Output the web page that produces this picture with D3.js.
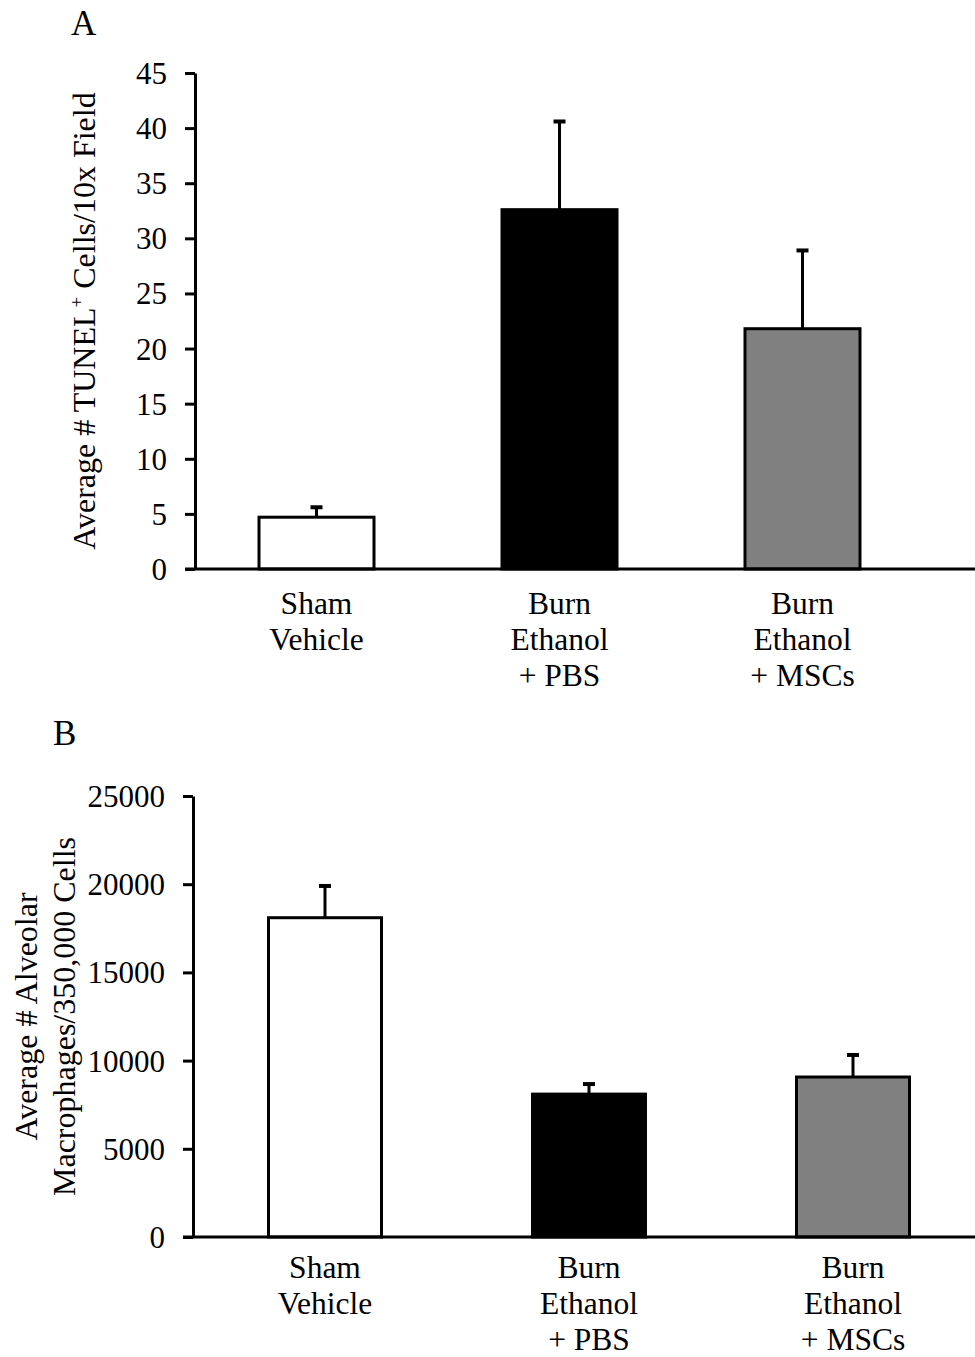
<!DOCTYPE html>
<html>
<head>
<meta charset="utf-8">
<script src="https://cdn.jsdelivr.net/npm/d3@7"></script>
<style>
  body { margin: 0; background: #fff; }
  svg text { font-family: "Liberation Serif", "Times New Roman", serif; fill: #000; }
</style>
</head>
<body>
<div id="chart"></div>
<script>
// groups along the x axis (each entry = lines of the label)
const groups = [
  ["Sham", "Vehicle"],
  ["Burn", "Ethanol", "+ PBS"],
  ["Burn", "Ethanol", "+ MSCs"]
];
const barFills = ["#ffffff", "#000000", "#808080"];

// panel A: TUNEL+ cells
const tunelMeans  = [4.7, 32.6, 21.8];
const tunelErrors = [0.9, 8.0, 7.1];
const tunelTicks  = [0, 5, 10, 15, 20, 25, 30, 35, 40, 45];

// panel B: alveolar macrophages
const macroMeans  = [18100, 8100, 9070];
const macroErrors = [1800, 570, 1250];
const macroTicks  = [0, 5000, 10000, 15000, 20000, 25000];

const W = 975, H = 1357;
const svg = d3.select("#chart").append("svg")
  .attr("width", W)
  .attr("height", H);

function drawPanel(opts) {
  const g = svg.append("g");
  const { means, errors, ticks, top, bottom, left, step, barW, letter, letterX, letterY, yLabel, labelBase } = opts;

  const y = d3.scaleLinear()
    .domain([0, d3.max(ticks)])
    .range([bottom, top]);

  // band scale: step & bar width set by padding
  const pIn = 1 - barW / step;
  const x = d3.scaleBand()
    .domain(d3.range(groups.length))
    .range([left, left + step * groups.length])
    .paddingInner(pIn)
    .paddingOuter(pIn / 2);

  // panel letter
  g.append("text")
    .attr("x", letterX)
    .attr("y", letterY)
    .attr("font-size", 35)
    .text(letter);

  // bars
  g.selectAll("rect.bar").data(means).join("rect")
    .attr("class", "bar")
    .attr("x", (d, i) => x(i))
    .attr("width", x.bandwidth())
    .attr("y", d => y(d))
    .attr("height", d => y(0) - y(d))
    .attr("fill", (d, i) => barFills[i])
    .attr("stroke", "#000")
    .attr("stroke-width", 3);

  // error bars (upper only)
  const eb = g.selectAll("g.err").data(means).join("g").attr("class", "err");
  eb.append("line")
    .attr("x1", (d, i) => x(i) + x.bandwidth() / 2)
    .attr("x2", (d, i) => x(i) + x.bandwidth() / 2)
    .attr("y1", d => y(d))
    .attr("y2", (d, i) => y(d + errors[i]))
    .attr("stroke", "#000")
    .attr("stroke-width", 3);
  eb.append("line")
    .attr("x1", (d, i) => x(i) + x.bandwidth() / 2 - 6)
    .attr("x2", (d, i) => x(i) + x.bandwidth() / 2 + 6)
    .attr("y1", (d, i) => y(d + errors[i]))
    .attr("y2", (d, i) => y(d + errors[i]))
    .attr("stroke", "#000")
    .attr("stroke-width", 4);

  // y axis
  const ya = g.append("g")
    .attr("transform", `translate(${left},0)`)
    .call(d3.axisLeft(y).tickValues(ticks).tickFormat(d3.format("d")).tickSize(10).tickSizeOuter(0).tickPadding(18));
  ya.select(".domain").attr("stroke-width", 3);
  ya.selectAll(".tick line").attr("stroke-width", 3);
  ya.selectAll(".tick text")
    .attr("font-size", 31)
    .attr("dy", "0.34em");

  // x axis line
  g.append("line")
    .attr("x1", left - 10)
    .attr("x2", W)
    .attr("y1", y(0))
    .attr("y2", y(0))
    .attr("stroke", "#000")
    .attr("stroke-width", 3);

  // category labels
  const cl = g.selectAll("text.cat").data(groups).join("text")
    .attr("class", "cat")
    .attr("text-anchor", "middle")
    .attr("font-size", 31.5)
    .attr("x", (d, i) => x(i) + x.bandwidth() / 2)
    .attr("y", labelBase);
  cl.selectAll("tspan").data(d => d).join("tspan")
    .attr("x", function () { return d3.select(this.parentNode).attr("x"); })
    .attr("y", (d, j) => labelBase + j * 36)
    .text(d => d);

  // y axis title
  yLabel(g, (top + bottom) / 2);
}

drawPanel({
  means: tunelMeans, errors: tunelErrors, ticks: tunelTicks,
  top: 73, bottom: 569, left: 195, step: 243, barW: 115,
  letter: "A", letterX: 71, letterY: 35, labelBase: 614,
  yLabel: (g, cy) => {
    const t = g.append("text")
      .attr("transform", `translate(95,${cy}) rotate(-90)`)
      .attr("text-anchor", "middle")
      .attr("font-size", 32);
    t.append("tspan").text("Average # TUNEL");
    t.append("tspan").attr("font-size", 19).attr("dy", -12).text("+");
    t.append("tspan").attr("dy", 12).text(" Cells/10x Field");
  }
});

drawPanel({
  means: macroMeans, errors: macroErrors, ticks: macroTicks,
  top: 796, bottom: 1237, left: 193, step: 264, barW: 113,
  letter: "B", letterX: 53, letterY: 745, labelBase: 1278,
  yLabel: (g, cy) => {
    const t = g.append("text")
      .attr("transform", `translate(0,${cy}) rotate(-90)`)
      .attr("text-anchor", "middle")
      .attr("font-size", 32);
    t.append("tspan").attr("x", 0).attr("y", 37).text("Average # Alveolar");
    t.append("tspan").attr("x", 0).attr("y", 75).text("Macrophages/350,000 Cells");
  }
});
</script>
</body>
</html>
